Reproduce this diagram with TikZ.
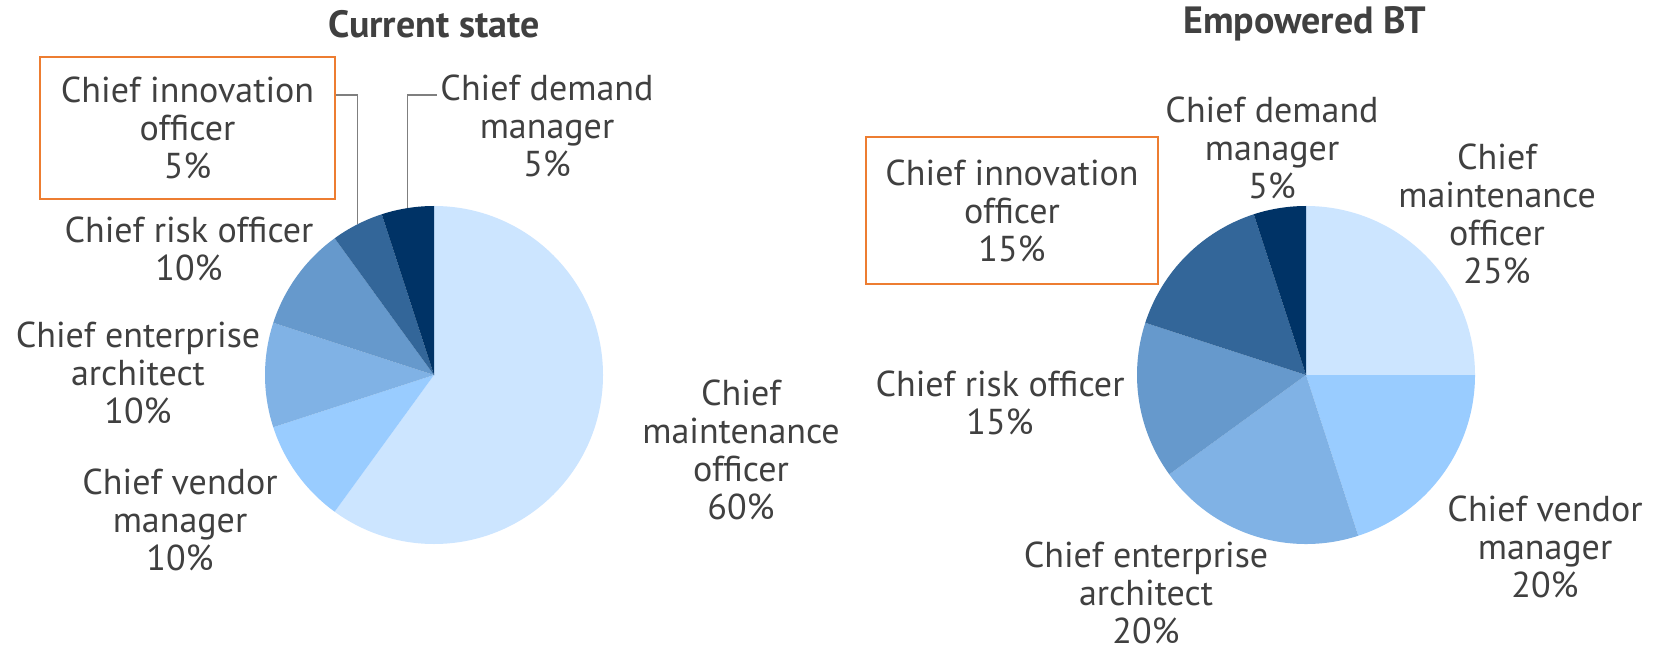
\documentclass[tikz,border=0pt]{standalone}
\usepackage{fontspec}
\setmainfont{PT Sans}
\usepackage{tikz}
\usetikzlibrary{positioning, calc}
\definecolor{maintcol}{HTML}{CCE5FF}
\definecolor{vendorcol}{HTML}{99CCFF}
\definecolor{archcol}{HTML}{80B2E5}
\definecolor{riskcol}{HTML}{6699CC}
\definecolor{innovcol}{HTML}{336699}
\definecolor{demandcol}{HTML}{003366}
\definecolor{textgray}{HTML}{404040}
\definecolor{leadgray}{HTML}{7F7F7F}
\definecolor{boxorange}{HTML}{ED7D31}

\begin{document}
\begin{tikzpicture}[
    x=1pt, y=1pt,
    pielabel/.style={align=center, text=textgray, inner sep=0pt,
        font=\fontsize{36}{38}\selectfont},
    charttitle/.style={text=textgray, inner sep=0pt,
        font=\bfseries\fontsize{38}{40}\selectfont},
    focusbox/.style={draw=boxorange, line width=2pt},
    leader/.style={draw=leadgray, line width=1.5pt}
]
    \useasboundingbox (0,0) rectangle (1661,654);
    \fill[white] (0,0) rectangle (1661,654);

    % Two pie centres
    \coordinate (c1) at (434,279);
    \coordinate (c2) at (1306,279);

    % Current state: 60/10/10/10/5/5
    \foreach \a/\b/\col in {90/-126/maintcol, -126/-162/vendorcol, -162/-198/archcol,
        -198/-234/riskcol, -234/-252/innovcol, -252/-270/demandcol}
        \fill[\col] (c1) -- ++(\a:169) arc[start angle=\a, end angle=\b, radius=169] -- cycle;

    % Empowered BT: 25/20/20/15/15/5
    \foreach \a/\b/\col in {90/0/maintcol, 0/-72/vendorcol, -72/-144/archcol,
        -144/-198/riskcol, -198/-252/innovcol, -252/-270/demandcol}
        \fill[\col] (c2) -- ++(\a:169) arc[start angle=\a, end angle=\b, radius=169] -- cycle;

    % Titles
    \node[charttitle] (title1) at (434,630) {Current state};
    \node[charttitle] (title2) at (1305,630) {Empowered BT};

    % Labels of the left pie
    \node[pielabel, focusbox, minimum width=295pt, minimum height=142pt] (innov1) at (187.5,526)
        {Chief innovation\\officer\\5\%};
    \node[pielabel] (demand1) at (547,528) {Chief demand\\manager\\5\%};
    \node[pielabel] (risk1) at (189,405) {Chief risk officer\\10\%};
    \node[pielabel] (arch1) at (138,281) {Chief enterprise\\architect\\10\%};
    \node[pielabel] (vendor1) at (180,134) {Chief vendor\\manager\\10\%};
    \node[pielabel] (maint1) at (741,204) {Chief\\maintenance\\officer\\60\%};

    % Leader lines of the two thin slices
    \coordinate (innovtip) at ($(c1)+(117:169)$);
    \coordinate (demandtip) at ($(c1)+(99:169)$);
    \draw[leader] (innovtip) -- (innovtip |- 0,559) -- (innov1.east |- 0,559);
    \draw[leader, shorten >=3pt] (demandtip) -- (demandtip |- 0,559) -- (demand1.west |- 0,559);

    % Labels of the right pie
    \node[pielabel, focusbox, minimum width=292pt, minimum height=147pt] (innov2) at (1012,443.5)
        {Chief innovation\\officer\\15\%};
    \node[pielabel] (demand2) at (1272,506) {Chief demand\\manager\\5\%};
    \node[pielabel] (maint2) at (1497,440.5) {Chief\\maintenance\\officer\\25\%};
    \node[pielabel] (risk2) at (1000,251.5) {Chief risk officer\\15\%};
    \node[pielabel] (arch2) at (1146,61) {Chief enterprise\\architect\\20\%};
    \node[pielabel] (vendor2) at (1545,107) {Chief vendor\\manager\\20\%};
\end{tikzpicture}
\end{document}
